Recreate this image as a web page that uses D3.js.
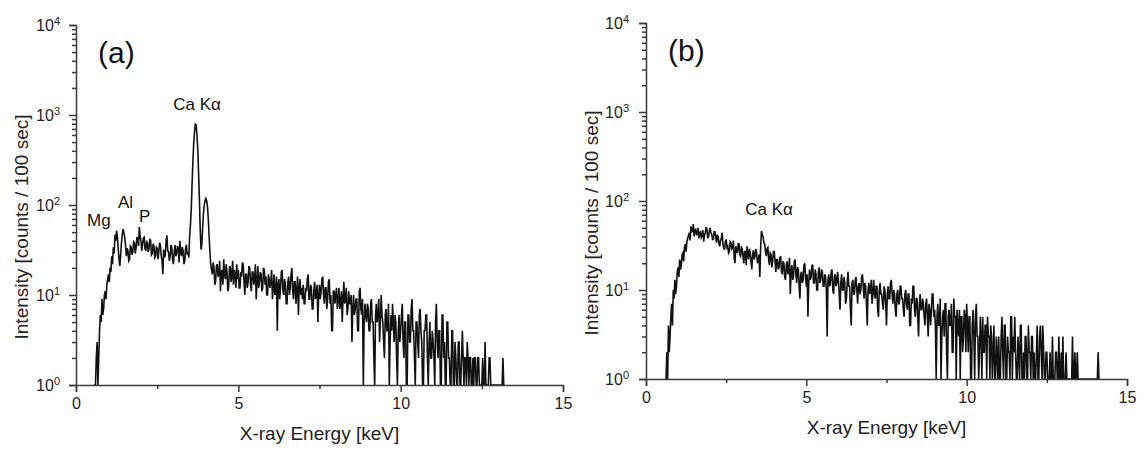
<!DOCTYPE html>
<html>
<head>
<meta charset="utf-8">
<script src="https://cdn.jsdelivr.net/npm/d3@7"></script>
<style>
  html, body { margin: 0; padding: 0; background: #fff; }
  svg { display: block; font-family: "Liberation Sans", Arial, sans-serif; }
</style>
</head>
<body>
<svg id="chart" width="1146" height="453"></svg>
<script>
// ---------------- DATA ----------------
const channelStep = 0.025;          // keV per listed channel
const xTicks = [0, 5, 10, 15];
const xMinorTicks = [2.5, 7.5, 12.5];
const yTicks = [1, 10, 100, 1000, 10000];

// Panel (a): counts per 100 s, first channel at 0.550 keV
const startA = 0.55;
const countsA = [
  0, 1, 1, 2, 3, 1, 2, 4, 6, 5, 9, 6, 7, 10, 11, 9, 13, 15,
  17, 14, 20, 18, 27, 22, 34, 29, 47, 40, 52, 45, 33, 25, 21, 28, 38, 47, 54, 49,
  44, 36, 27, 33, 31, 24, 25, 35, 34, 28, 30, 39, 38, 29, 33, 44, 42, 35, 57, 45,
  40, 31, 36, 43, 44, 33, 31, 39, 38, 30, 33, 42, 40, 28, 29, 37, 35, 26, 27, 34,
  33, 25, 30, 38, 36, 27, 24, 17, 32, 26, 28, 40, 46, 31, 30, 24, 27, 36, 34, 25,
  22, 30, 36, 27, 29, 35, 33, 23, 40, 31, 27, 34, 31, 22, 24, 33, 36, 28, 30, 26,
  45, 60, 90, 170, 300, 480, 650, 790, 780, 600, 420, 230, 120, 55, 32, 36, 55, 80, 100, 112,
  118, 110, 95, 70, 45, 30, 22, 19, 17, 23, 20, 13, 14, 21, 22, 16, 17, 24, 11, 18,
  19, 13, 25, 17, 15, 22, 18, 11, 12, 20, 21, 14, 16, 24, 13, 19, 17, 12, 22, 15,
  19, 12, 12, 18, 16, 23, 22, 14, 10, 17, 17, 12, 14, 21, 20, 13, 11, 18, 18, 13,
  15, 22, 9, 14, 21, 12, 14, 18, 17, 11, 12, 20, 19, 13, 16, 10, 10, 17, 15, 12,
  14, 19, 9, 12, 17, 10, 11, 16, 4, 13, 15, 9, 12, 18, 19, 11, 10, 15, 13, 8,
  8, 14, 16, 10, 12, 17, 20, 11, 9, 14, 14, 8, 11, 16, 6, 12, 15, 10, 12, 9,
  13, 8, 8, 12, 11, 15, 17, 9, 9, 13, 12, 7, 7, 11, 14, 9, 10, 13, 5, 10,
  13, 9, 11, 15, 16, 10, 8, 12, 12, 7, 9, 14, 15, 8, 10, 4, 4, 11, 11, 8,
  10, 12, 7, 9, 12, 7, 8, 11, 5, 9, 14, 8, 9, 12, 6, 7, 11, 8, 8, 10,
  3, 7, 10, 6, 7, 9, 9, 4, 4, 11, 12, 7, 6, 9, 1, 5, 8, 6, 5, 8,
  7, 4, 4, 8, 9, 5, 5, 2, 1, 6, 8, 5, 6, 9, 3, 5, 10, 6, 5, 3,
  2, 6, 7, 4, 4, 8, 1, 3, 6, 4, 8, 5, 3, 6, 5, 2, 0, 4, 6, 3,
  4, 6, 8, 3, 2, 5, 5, 1, 1, 6, 6, 3, 3, 7, 9, 4, 4, 2, 0, 5,
  5, 3, 2, 6, 7, 4, 3, 1, 1, 4, 4, 6, 6, 2, 0, 3, 5, 2, 2, 4,
  3, 2, 1, 5, 8, 3, 2, 4, 4, 1, 0, 6, 6, 2, 3, 1, 1, 5, 5, 2,
  2, 0, 0, 4, 4, 1, 1, 3, 2, 0, 0, 3, 3, 1, 1, 2, 4, 2, 1, 2,
  2, 1, 3, 2, 1, 2, 2, 0, 0, 2, 1, 2, 2, 0, 0, 2, 2, 1, 0, 0,
  1, 2, 0, 0, 3, 1, 1, 0, 0, 2, 2, 0, 0, 0, 1, 0, 0, 0, 0, 0,
  0, 0, 0, 0, 0, 0, 2, 0, 0
];

// Panel (b): counts per 100 s, first channel at 0.600 keV
const startB = 0.60;
const countsB = [
  0, 1, 2, 1, 4, 2, 3, 5, 7, 4, 10, 8, 13, 9, 11, 16,
  18, 14, 22, 17, 19, 25, 26, 21, 30, 33, 27, 35, 38, 41, 44, 36, 52, 45, 46, 55,
  40, 47, 48, 42, 43, 50, 38, 44, 45, 39, 41, 47, 35, 42, 44, 51, 48, 38, 40, 46,
  50, 44, 42, 37, 37, 45, 45, 39, 34, 41, 40, 33, 31, 36, 38, 44, 33, 29, 29, 35,
  37, 30, 31, 26, 27, 35, 34, 29, 30, 36, 23, 20, 31, 28, 26, 33, 33, 25, 24, 30,
  29, 24, 20, 27, 27, 19, 31, 26, 22, 29, 26, 21, 17, 25, 28, 22, 24, 29, 26, 20,
  21, 25, 14, 30, 46, 42, 40, 34, 33, 27, 24, 29, 30, 22, 19, 26, 25, 18, 21, 27,
  27, 21, 16, 22, 22, 17, 18, 23, 24, 16, 15, 21, 20, 14, 13, 19, 21, 15, 17, 23,
  9, 16, 19, 13, 14, 21, 22, 15, 12, 18, 17, 11, 8, 15, 16, 12, 13, 19, 20, 14,
  11, 15, 5, 12, 17, 13, 14, 19, 19, 12, 12, 17, 15, 10, 10, 16, 18, 12, 13, 17,
  16, 11, 11, 15, 14, 10, 3, 13, 15, 11, 12, 16, 17, 10, 9, 14, 15, 11, 12, 16,
  13, 9, 6, 12, 15, 10, 10, 14, 12, 7, 8, 12, 16, 11, 11, 6, 4, 12, 13, 9,
  9, 13, 14, 10, 7, 11, 12, 9, 10, 14, 15, 11, 8, 12, 11, 7, 4, 10, 12, 9,
  10, 13, 7, 9, 13, 9, 8, 11, 11, 6, 5, 10, 12, 9, 9, 7, 6, 11, 10, 7,
  4, 9, 11, 8, 8, 12, 13, 9, 7, 10, 9, 6, 5, 9, 10, 7, 7, 11, 11, 8,
  8, 6, 5, 9, 10, 7, 6, 9, 9, 4, 4, 8, 7, 11, 11, 6, 5, 8, 8, 5,
  3, 7, 9, 6, 6, 8, 7, 5, 4, 7, 8, 5, 3, 7, 6, 4, 6, 9, 9, 5,
  6, 4, 1, 5, 7, 4, 4, 8, 0, 3, 5, 6, 3, 7, 7, 2, 1, 5, 6, 4,
  4, 7, 2, 2, 8, 5, 5, 0, 6, 4, 3, 6, 1, 5, 5, 2, 3, 6, 5, 2,
  7, 4, 2, 5, 5, 1, 0, 4, 6, 3, 1, 5, 7, 3, 3, 0, 2, 5, 3, 1,
  5, 2, 2, 4, 4, 1, 5, 3, 3, 0, 4, 3, 0, 2, 4, 1, 1, 3, 2, 1,
  3, 1, 0, 3, 5, 2, 1, 4, 4, 0, 0, 3, 2, 2, 0, 5, 5, 1, 3, 2,
  5, 2, 1, 0, 3, 2, 0, 4, 4, 1, 0, 2, 1, 3, 3, 0, 1, 4, 2, 2,
  1, 3, 3, 0, 2, 0, 1, 2, 4, 1, 1, 3, 4, 2, 0, 4, 2, 1, 0, 2,
  2, 1, 0, 1, 2, 0, 0, 3, 1, 1, 0, 2, 2, 0, 1, 3, 0, 1, 2, 0,
  3, 1, 0, 1, 2, 0, 0, 1, 0, 0, 0, 0, 3, 1, 0, 2, 0, 0, 2, 0,
  0, 1, 0, 0, 0, 0, 0, 0, 0, 0, 0, 0, 0, 0, 0, 0, 0, 0, 0, 0,
  0, 0, 0, 0, 2, 0, 0
];

// Annotations (energy keV, counts) in data units
const annotationsA = [
  { text: "Mg", e: 0.34, c: 58 },
  { text: "Al", e: 1.29, c: 93 },
  { text: "P",  e: 1.94, c: 64 }
];
const peakLabelA = { text: "Ca K\u03B1", e: 3.73, c: 1137 };
const peakLabelB = { text: "Ca K\u03B1", e: 3.84, c: 70 };

// ---------------- LAYOUT ----------------
const svg = d3.select("#chart");
const panels = [
  { id: "a", left: 76, right: 563, top: 25, bottom: 385, start: startA, counts: countsA,
    tag: "(a)", peak: peakLabelA, ann: annotationsA, yPad: 9 },
  { id: "b", left: 646, right: 1127, top: 23, bottom: 379, start: startB, counts: countsB,
    tag: "(b)", peak: peakLabelB, ann: [], yPad: 10 }
];

function minorLogTicks() {
  const out = [];
  for (let k = 0; k < 4; k++) for (let m = 2; m <= 9; m++) out.push(m * Math.pow(10, k));
  return out;
}

panels.forEach(p => {
  const x = d3.scaleLinear().domain([0, 15]).range([p.left, p.right]);
  const y = d3.scaleLog().domain([1, 10000]).range([p.bottom, p.top]);
  const g = svg.append("g");

  const data = p.counts.map((c, i) => ({ e: p.start + i * channelStep, c }));

  g.append("clipPath").attr("id", "clip-" + p.id)
    .append("rect").attr("x", p.left).attr("y", p.top - 2)
    .attr("width", p.right - p.left).attr("height", p.bottom - p.top + 2);

  const line = d3.line()
    .x(d => x(d.e))
    .y(d => y(Math.max(d.c, 1)));

  g.append("path")
    .datum(data)
    .attr("clip-path", "url(#clip-" + p.id + ")")
    .attr("d", line)
    .attr("fill", "none")
    .attr("stroke", "#111")
    .attr("stroke-width", 1.6)
    .attr("stroke-linejoin", "miter");

  // X axis
  g.append("g").attr("transform", `translate(0,${p.bottom})`)
    .call(d3.axisBottom(x).tickValues(xTicks).tickFormat(d3.format("d")).tickSize(7).tickPadding(6));
  g.append("g").attr("transform", `translate(0,${p.bottom})`)
    .call(d3.axisBottom(x).tickValues(xMinorTicks).tickFormat("").tickSize(4))
    .select(".domain").remove();

  // Y axis
  const yAxis = g.append("g").attr("transform", `translate(${p.left},0)`)
    .call(d3.axisLeft(y).tickValues(yTicks).tickFormat(() => "").tickSize(7).tickPadding(p.yPad));
  g.append("g").attr("transform", `translate(${p.left},0)`)
    .call(d3.axisLeft(y).tickValues(minorLogTicks()).tickFormat("").tickSize(4))
    .select(".domain").remove();

  yAxis.selectAll(".tick text").each(function(d) {
    const t = d3.select(this);
    t.text(null);
    t.append("tspan").text("10");
    t.append("tspan").attr("dy", "-0.55em").attr("font-size", "11px").text(Math.round(Math.log10(d)));
  });

  g.selectAll(".domain, .tick line").attr("stroke", "#3a3a3a").attr("stroke-width", 1.5);
  g.selectAll(".tick text").attr("fill", "#222").attr("font-size", "16px")
    .attr("font-family", "\"Liberation Sans\", Arial, sans-serif");

  // Axis titles
  g.append("text")
    .attr("x", (p.left + p.right) / 2)
    .attr("y", p.bottom + 55)
    .attr("text-anchor", "middle")
    .attr("font-size", "19px")
    .attr("fill", "#222")
    .text("X-ray Energy [keV]");

  g.append("text")
    .attr("transform", `translate(${p.left - 48},${(p.top + p.bottom) / 2 + 22}) rotate(-90)`)
    .attr("text-anchor", "middle")
    .attr("font-size", "19px")
    .attr("fill", "#222")
    .text("Intensity [counts / 100 sec]");

  // Panel tag
  g.append("text")
    .attr("x", p.left + 22)
    .attr("y", p.top + 38)
    .attr("font-size", "30px")
    .attr("fill", "#111")
    .text(p.tag);

  // Peak label
  g.append("text")
    .attr("x", x(p.peak.e))
    .attr("y", y(p.peak.c))
    .attr("text-anchor", "middle")
    .attr("font-size", "17px")
    .attr("fill", "#111")
    .text(p.peak.text);

  p.ann.forEach(a => {
    g.append("text")
      .attr("x", x(a.e))
      .attr("y", y(a.c))
      .attr("font-size", "17px")
      .attr("fill", "#111")
      .text(a.text);
  });
});
</script>
</body>
</html>
